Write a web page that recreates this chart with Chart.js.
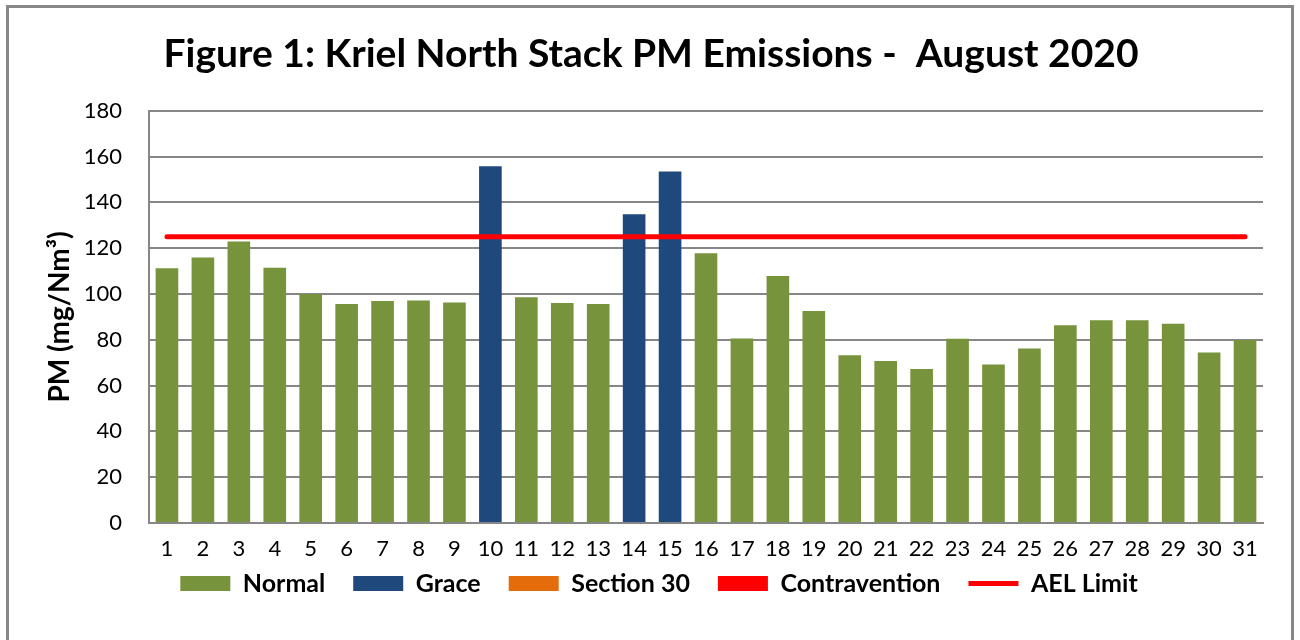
<!DOCTYPE html>
<html>
<head>
<meta charset="utf-8">
<script src="https://cdn.jsdelivr.net/npm/chart.js@4/dist/chart.umd.min.js"></script>
<style>
  html, body { margin: 0; padding: 0; background: #ffffff; }
  #wrap { width: 1300px; height: 640px; position: relative; }
</style>
</head>
<body>
<div id="wrap"><canvas id="c" width="1300" height="640"></canvas></div>
<script>
const days = ['1','2','3','4','5','6','7','8','9','10','11','12','13','14','15','16','17','18','19','20','21','22','23','24','25','26','27','28','29','30','31'];
const normal = [111.2, 115.9, 122.9, 111.5, 100.0, 95.6, 96.9, 97.2, 96.3, null, 98.6, 96.1, 95.6, null, null, 117.8, 80.6, 107.9, 92.6, 73.2, 70.7, 67.2, 80.5, 69.2, 76.2, 86.3, 88.5, 88.5, 87.0, 74.5, 79.9];
const grace = [null, null, null, null, null, null, null, null, null, 155.8, null, null, null, 134.8, 153.5, null, null, null, null, null, null, null, null, null, null, null, null, null, null, null, null];
const section30 = [];
const contravention = [];
const aelLimit = [125, 125, 125, 125, 125, 125, 125, 125, 125, 125, 125, 125, 125, 125, 125, 125, 125, 125, 125, 125, 125, 125, 125, 125, 125, 125, 125, 125, 125, 125, 125];
const yTicks = [0, 20, 40, 60, 80, 100, 120, 140, 160, 180];

const FONT = 'Lato, "Open Sans", sans-serif';

const borderPlugin = {
  id: 'outerBorder',
  beforeDraw(chart) {
    const ctx = chart.ctx;
    ctx.save();
    ctx.fillStyle = '#ffffff';
    ctx.fillRect(0, 0, chart.width, chart.height);
    ctx.strokeStyle = '#888888';
    ctx.lineWidth = 3;
    ctx.strokeRect(7.5, 6.5, 1285, 700);
    ctx.restore();
  }
};

// place the legend row where the reference has it (just under the x tick labels)
const legendPlace = {
  id: 'legendPlace',
  afterLayout(chart) {
    const lg = chart.legend;
    if (!lg) return;
    const h = lg.height;
    lg.top = 543;
    lg.bottom = 543 + h;
    lg.left += 8;
    lg.right += 8;
  }
};

const barCommon = { grouped: false, categoryPercentage: 1.0, barPercentage: 0.63, borderWidth: 0, pointStyle: 'rect' };

new Chart(document.getElementById('c'), {
  data: {
    labels: days,
    datasets: [
      Object.assign({ type: 'bar', label: 'Normal', data: normal, backgroundColor: '#77933C', order: 2 }, barCommon),
      Object.assign({ type: 'bar', label: 'Grace', data: grace, backgroundColor: '#1F497D', order: 2 }, barCommon),
      Object.assign({ type: 'bar', label: 'Section 30', data: section30, backgroundColor: '#E46C0A', order: 2 }, barCommon),
      Object.assign({ type: 'bar', label: 'Contravention', data: contravention, backgroundColor: '#FF0000', order: 2 }, barCommon),
      { type: 'line', label: 'AEL Limit', data: aelLimit, borderColor: '#FF0000', backgroundColor: '#FF0000',
        borderWidth: 5, pointRadius: 0, pointStyle: 'line', borderCapStyle: 'round', fill: false, order: 1 }
    ]
  },
  options: {
    responsive: false,
    animation: false,
    devicePixelRatio: 1,
    layout: { padding: { top: 8, left: 39, right: 37, bottom: 9 } },
    plugins: {
      title: {
        display: true,
        text: 'Figure 1: Kriel North Stack PM Emissions -  August 2020',
        color: '#000000',
        font: { family: FONT, size: 39, weight: 'bold' },
        padding: { top: 23, bottom: 33 }
      },
      legend: {
        position: 'bottom',
        labels: {
          color: '#000000',
          font: { family: FONT, size: 25, weight: 'bold' },
          usePointStyle: true,
          pointStyleWidth: 50,
          boxHeight: 15,
          padding: 28,
          sort: (a, b) => a.datasetIndex - b.datasetIndex
        }
      },
      tooltip: { enabled: false }
    },
    scales: {
      x: {
        type: 'category',
        offset: true,
        grid: { display: false, drawTicks: false },
        border: { display: true, color: '#878787', width: 2 },
        ticks: { color: '#000000', font: { family: FONT, size: 22 }, padding: 13, maxRotation: 0, autoSkip: false },
        afterFit: (s) => { s.height = 45; }
      },
      y: {
        min: 0, max: 180,
        afterBuildTicks: (s) => { s.ticks = yTicks.map(v => ({ value: v })); },
        grid: { color: '#878787', lineWidth: 2, drawTicks: false },
        border: { display: true, color: '#878787', width: 2 },
        ticks: { color: '#000000', font: { family: FONT, size: 22 }, padding: 27 },
        title: {
          display: true,
          text: 'PM (mg/Nm³)',
          color: '#000000',
          font: { family: FONT, size: 28, weight: 'bold' },
          padding: { top: 4, bottom: 0 }
        },
        afterFit: (s) => { s.width = 110; }
      }
    }
  },
  plugins: [borderPlugin, legendPlace]
});
</script>
</body>
</html>
